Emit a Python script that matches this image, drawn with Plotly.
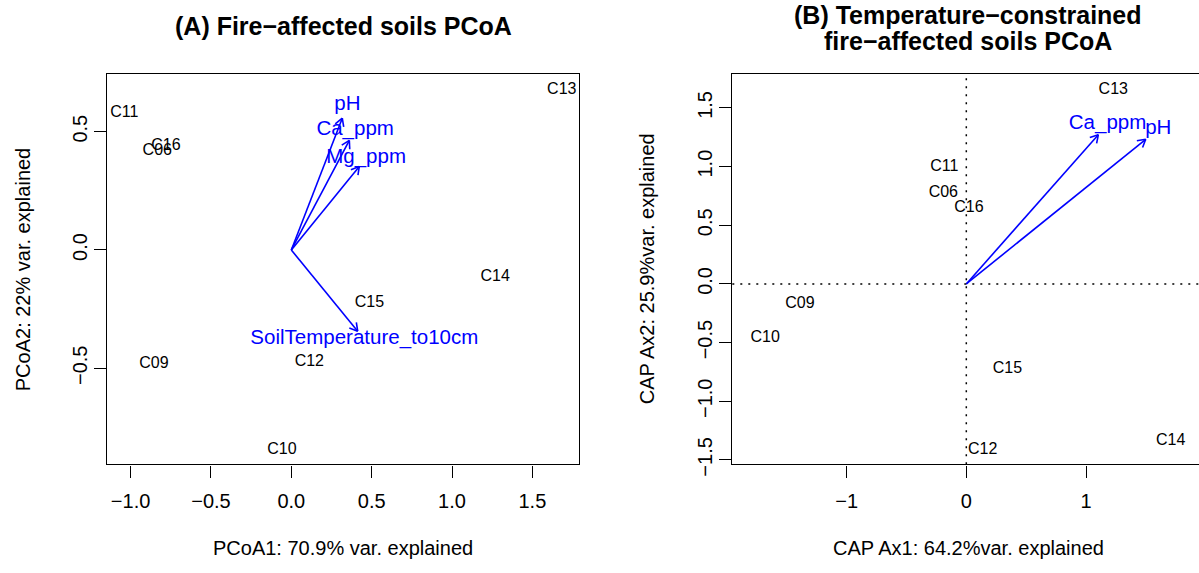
import math
import plotly.graph_objects as go

W, H = 1199, 573
FONT = "Liberation Sans, Arial, Helvetica, sans-serif"
BLUE = "#0000FF"

# ---------------- data ----------------
# Panel A: PCoA site scores
samples_a = ["C06", "C09", "C10", "C11", "C12", "C13", "C14", "C15", "C16"]
pcoa1 = [-0.834, -0.855, -0.058, -1.039, 0.112, 1.683, 1.268, 0.486, -0.780]
pcoa2 = [0.418, -0.481, -0.847, 0.578, -0.473, 0.677, -0.113, -0.223, 0.441]
# Panel A: fitted environmental vectors
vars_a = ["pH", "Ca_ppm", "Mg_ppm", "SoilTemperature_to10cm"]
vec_a_x = [0.317, 0.361, 0.423, 0.413]
vec_a_y = [0.557, 0.463, 0.353, -0.343]

# Panel B: CAP site scores
samples_b = ["C06", "C09", "C10", "C11", "C12", "C13", "C14", "C15", "C16"]
cap1 = [-0.192, -1.390, -1.680, -0.184, 0.137, 1.228, 1.708, 0.343, 0.022]
cap2 = [0.779, -0.173, -0.465, 0.996, -1.419, 1.656, -1.341, -0.723, 0.646]
# Panel B: biplot arrows
vars_b = ["Ca_ppm", "pH"]
vec_b_x = [1.103, 1.499]
vec_b_y = [1.272, 1.233]

# tick labels
xticks_a = [-1.0, -0.5, 0.0, 0.5, 1.0, 1.5]
xticklabels_a = ["−1.0", "−0.5", "0.0", "0.5", "1.0", "1.5"]
yticks_a = [-0.5, 0.0, 0.5]
yticklabels_a = ["−0.5", "0.0", "0.5"]
xticks_b = [-1, 0, 1]
xticklabels_b = ["−1", "0", "1"]
yticks_b = [-1.5, -1.0, -0.5, 0.0, 0.5, 1.0, 1.5]
yticklabels_b = ["−1.5", "−1.0", "−0.5", "0.0", "0.5", "1.0", "1.5"]

# ---------------- layout geometry ----------------
A_L, A_R, TOP, BOT = 107.3, 579.0, 76.0, 474.3
B_L, B_R = 732.3, 1199.0
xr_a = [-1.145, 1.790]
yr_a = [-0.906, 0.742]
xr_b = [-1.955, 1.944]
yr_b = [-1.538, 1.786]

sx_a = (A_R - A_L) / (xr_a[1] - xr_a[0])
sy_a = (BOT - TOP) / (yr_a[1] - yr_a[0])
sx_b = (B_R - B_L) / (xr_b[1] - xr_b[0])
sy_b = (BOT - TOP) / (yr_b[1] - yr_b[0])


def arrow_paths(vx, vy, sx, sy, head=9.0, ang=math.radians(30)):
    xs, ys = [], []
    for tx, ty in zip(vx, vy):
        xs += [0, tx, None]
        ys += [0, ty, None]
        th = math.atan2(ty * sy, tx * sx)
        for s in (1, -1):
            a = th + math.pi + s * ang
            xs += [tx + head * math.cos(a) / sx, tx, None]
            ys += [ty + head * math.sin(a) / sy, ty, None]
    return xs, ys


fig = go.Figure()

# Panel A
ax_x, ax_y = arrow_paths(vec_a_x, vec_a_y, sx_a, sy_a)
fig.add_trace(go.Scatter(x=ax_x, y=ax_y, mode="lines", line=dict(color=BLUE, width=1.6),
                         xaxis="x", yaxis="y", hoverinfo="skip", showlegend=False))
fig.add_trace(go.Scatter(x=pcoa1, y=pcoa2, text=samples_a, mode="text",
                         textposition="middle center",
                         textfont=dict(family=FONT, size=16, color="black"),
                         xaxis="x", yaxis="y", showlegend=False, cliponaxis=False))
fig.add_trace(go.Scatter(x=[v * 1.1 for v in vec_a_x], y=[v * 1.1 for v in vec_a_y],
                         text=vars_a, mode="text", textposition="middle center",
                         textfont=dict(family=FONT, size=20.5, color=BLUE),
                         xaxis="x", yaxis="y", showlegend=False, cliponaxis=False))

# Panel B
bx_x, bx_y = arrow_paths(vec_b_x, vec_b_y, sx_b, sy_b)
fig.add_trace(go.Scatter(x=bx_x, y=bx_y, mode="lines", line=dict(color=BLUE, width=1.6),
                         xaxis="x2", yaxis="y2", hoverinfo="skip", showlegend=False))
fig.add_trace(go.Scatter(x=cap1, y=cap2, text=samples_b, mode="text",
                         textposition="middle center",
                         textfont=dict(family=FONT, size=16, color="black"),
                         xaxis="x2", yaxis="y2", showlegend=False, cliponaxis=False))
fig.add_trace(go.Scatter(x=[v * 1.07 for v in vec_b_x], y=[v * 1.07 for v in vec_b_y],
                         text=vars_b, mode="text", textposition="middle center",
                         textfont=dict(family=FONT, size=20.5, color=BLUE),
                         xaxis="x2", yaxis="y2", showlegend=False, cliponaxis=False))

axis_common = dict(showgrid=False, zeroline=False, showline=True, linecolor="black",
                   linewidth=1.3, ticks="outside", ticklen=12, tickwidth=1.3,
                   tickcolor="black", tickfont=dict(family=FONT, size=20, color="black"))

fig.update_layout(
    width=W, height=H, autosize=False, margin=dict(l=0, r=0, t=0, b=0, pad=0),
    paper_bgcolor="white", plot_bgcolor="white", showlegend=False,
    font=dict(family=FONT, color="black"),
    xaxis=dict(domain=[A_L / W, A_R / W], range=xr_a, tickvals=xticks_a,
               ticktext=xticklabels_a, mirror=True, anchor="y",
               ticklabelstandoff=6, **axis_common),
    yaxis=dict(domain=[1 - BOT / H, 1 - TOP / H], range=yr_a, tickvals=yticks_a,
               ticktext=yticklabels_a, mirror=True, anchor="x", tickangle=-90,
               ticklabelstandoff=-1, **axis_common),
    xaxis2=dict(domain=[B_L / W, 1.0], range=xr_b, tickvals=xticks_b,
                ticktext=xticklabels_b, mirror=True, anchor="y2",
                ticklabelstandoff=6, **axis_common),
    yaxis2=dict(domain=[1 - BOT / H, 1 - TOP / H], range=yr_b, tickvals=yticks_b,
                ticktext=yticklabels_b, mirror=False, anchor="x2", tickangle=-90,
                ticklabelstandoff=-1, **axis_common),
)

# dotted zero lines in panel B
dot = dict(color="black", width=1.5, dash="2px,6px")
fig.add_shape(type="line", xref="x2", yref="y2 domain", x0=0, x1=0, y0=0, y1=1, line=dot)
fig.add_shape(type="line", xref="x2 domain", yref="y2", x0=0, x1=1, y0=0, y1=0, line=dot)


def ann(text, xp, yp, size=20, bold=False, angle=0):
    fig.add_annotation(text=f"<b>{text}</b>" if bold else text, xref="paper", yref="paper",
                       x=xp / W, y=1 - yp / H, xanchor="center", yanchor="middle",
                       showarrow=False, textangle=angle,
                       font=dict(family=FONT, size=size, color="black"))


ann("(A) Fire−affected soils PCoA", 343, 27, size=25, bold=True)
ann("(B) Temperature−constrained", 968, 15, size=25, bold=True)
ann("fire−affected soils PCoA", 968, 42, size=25, bold=True)
ann("PCoA1: 70.9% var. explained", 343, 560)
ann("CAP Ax1: 64.2%var. explained", 968, 560)
ann("PCoA2: 22% var. explained", 23, 275, angle=-90)
ann("CAP Ax2: 25.9%var. explained", 647, 275, angle=-90)

fig.write_html("out.html")
